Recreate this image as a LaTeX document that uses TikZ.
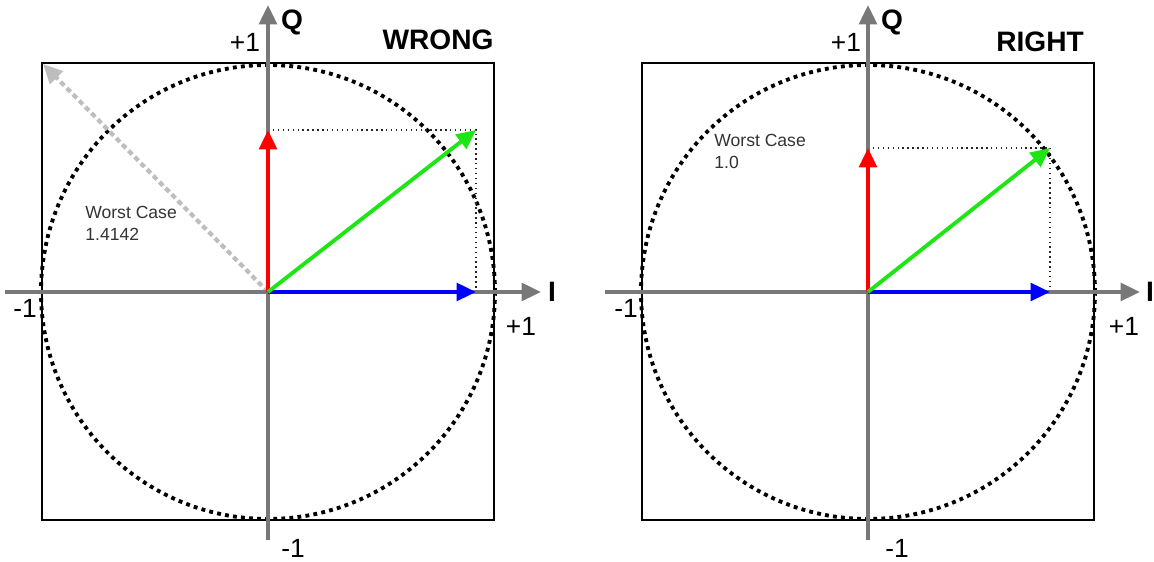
\documentclass[tikz,border=0pt]{standalone}
\usepackage{fontspec}
\setmainfont{Liberation Sans}
\usetikzlibrary{arrows.meta}
\definecolor{axisgray}{RGB}{120,120,120}
\definecolor{worstgray}{RGB}{190,190,190}
\definecolor{vecgreen}{RGB}{30,230,20}
\begin{document}
\begin{tikzpicture}[
  axis/.style={line width=2.2pt,axisgray,-{Triangle[length=11pt,width=10pt]}},
  vec/.style={line width=2.2pt,-{Triangle[length=11pt,width=10pt]}},
  worst/.style={line width=2.4pt,worstgray,dash pattern=on 3pt off 2pt,-{Triangle[length=11pt,width=10pt]}},
  ringdots/.style={line width=2.2pt,dash pattern=on 2.2pt off 2.4pt},
  guide/.style={line width=0.8pt,dotted,black!85},
  tick/.style={font=\fontsize{15}{17}\selectfont,inner sep=0pt},
  axlbl/.style={font=\fontsize{16}{18}\selectfont\bfseries,inner sep=0pt},
  note/.style={font=\fontsize{10}{12.5}\selectfont,text=black!80,align=left,anchor=north west,inner sep=0pt}]
  \useasboundingbox (0,0) rectangle (23.08,11.24);
  % wrong: full-scale I and Q, the corner lies outside the circle
  \begin{scope}[shift={(5.36,5.40)}]
    \coordinate (O) at (0,0);
    \draw[line width=1.3pt] (-4.52,-4.56) rectangle (4.52,4.58);
    \draw[ringdots] (O) circle (4.54);
    \coordinate (Qw) at (0,3.24); \coordinate (Iw) at (4.16,0); \coordinate (Sw) at (4.16,3.24);
    \draw[guide] (Qw) -- (Sw) -- (Iw);
    \coordinate (Cw) at (-4.50,4.56);
    \draw[worst] (O) -- (Cw);
    \draw[axis] (-5.26,0) -- (5.46,0);
    \draw[axis] (0,-4.96) -- (0,5.74);
    \draw[vec,red] (O) -- (Qw);
    \draw[vec,blue] (O) -- (Iw);
    \draw[vec,vecgreen] (O) -- (Sw);
    \node[tick] (tqw) at (-0.46,5.0) {+1};
    \node[axlbl] (lqw) at (0.48,5.4) {Q};
    \node[axlbl] (ttlw) at (3.4,5.04) {WRONG};
    \node[axlbl] (liw) at (5.68,0) {I};
    \node[tick] (tlw) at (-4.86,-0.32) {-1};
    \node[tick] (trw) at (5.06,-0.68) {+1};
    \node[tick] (tbw) at (0.5,-5.12) {-1};
    \node[note] (nw) at (-3.66,1.72) {Worst Case\\1.4142};
  \end{scope}
  % right: I and Q scaled so the vector stays on the circle
  \begin{scope}[shift={(17.36,5.40)}]
    \coordinate (O) at (0,0);
    \draw[line width=1.3pt] (-4.52,-4.56) rectangle (4.52,4.58);
    \draw[ringdots] (O) circle (4.54);
    \coordinate (Qr) at (0,2.88); \coordinate (Ir) at (3.64,0); \coordinate (Sr) at (3.64,2.88);
    \draw[guide] (Qr) -- (Sr) -- (Ir);
    \draw[axis] (-5.26,0) -- (5.44,0);
    \draw[axis] (0,-4.96) -- (0,5.74);
    \draw[vec,red] (O) -- (Qr);
    \draw[vec,blue] (O) -- (Ir);
    \draw[vec,vecgreen] (O) -- (Sr);
    \node[tick] (tqr) at (-0.44,5.0) {+1};
    \node[axlbl] (lqr) at (0.48,5.4) {Q};
    \node[axlbl] (ttlr) at (3.44,5.0) {RIGHT};
    \node[axlbl] (lir) at (5.64,0) {I};
    \node[tick] (tlr) at (-4.84,-0.32) {-1};
    \node[tick] (trr) at (5.12,-0.68) {+1};
    \node[tick] (tbr) at (0.58,-5.12) {-1};
    \node[note] (nr) at (-3.08,3.16) {Worst Case\\1.0};
  \end{scope}
\end{tikzpicture}
\end{document}
